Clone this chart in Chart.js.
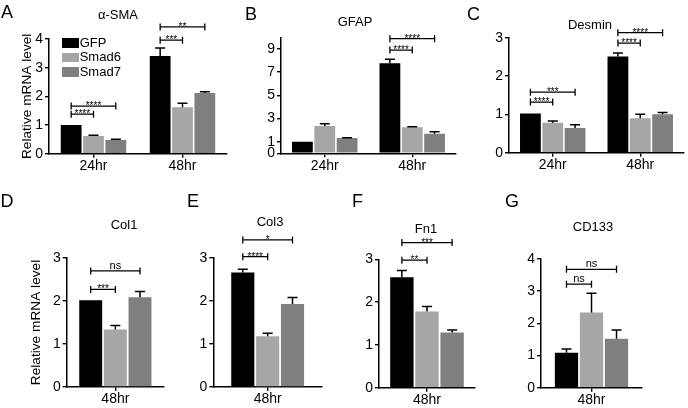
<!DOCTYPE html>
<html>
<head>
<meta charset="utf-8">
<script src="https://cdn.jsdelivr.net/npm/chart.js@4.4.1/dist/chart.umd.min.js"></script>
<style>
  body { margin: 0; width: 688px; height: 408px; overflow: hidden; background: #fff; position: relative; font-family: "Liberation Sans", Arial, sans-serif; color: #000; }
  canvas { position: absolute; }
  .letter { position: absolute; font-size: 18px; line-height: 18px; z-index: 2; }
  .title { position: absolute; font-size: 13px; line-height: 13px; white-space: nowrap; transform: translateX(-50%); z-index: 2; }
  #legend { position: absolute; left: 61.7px; top: 35.8px; font-size: 13px; z-index: 2; }
  #legend div { display: flex; align-items: center; height: 14.5px; line-height: 14.5px; }
  #legend .box { display: inline-block; width: 17px; height: 9.5px; margin-right: 1px; }
</style>
</head>
<body>
<div class="letter" style="left:1px;top:2.6px">A</div>
<div class="letter" style="left:245px;top:4.6px">B</div>
<div class="letter" style="left:467px;top:4.6px">C</div>
<div class="letter" style="left:0.5px;top:191.6px">D</div>
<div class="letter" style="left:187px;top:191.6px">E</div>
<div class="letter" style="left:352px;top:191.6px">F</div>
<div class="letter" style="left:505px;top:191.6px">G</div>
<div id="legend"></div>
<script>
const seriesNames = ['GFP', 'Smad6', 'Smad7'];
const seriesColors = ['#000000', '#a6a6a6', '#7f7f7f'];
const bothTimes = ['24hr', '48hr'];
const lateTime = ['48hr'];

// each means/errs row is one series (GFP, Smad6, Smad7); sig rows: [group, from, to, level, label]
const smaMeans = [[1.00, 3.41], [0.62, 1.62], [0.48, 2.12]];
const smaErrs = [[0, 0.28], [0.02, 0.14], [0.02, 0.04]];
const smaSig = [[0, 0, 1, 1.38, '****'], [0, 0, 2, 1.66, '****'], [1, 0, 1, 3.96, '***'], [1, 0, 2, 4.42, '**']];
const smaTicks = [0, 1, 2, 3, 4];

const gfapMeans = [[1.00, 7.76], [2.35, 2.24], [1.32, 1.69]];
const gfapErrs = [[0, 0.34], [0.2, 0.04], [0.03, 0.17]];
const gfapSig = [[1, 0, 1, 8.9, '****'], [1, 0, 2, 9.88, '****']];
const gfapTicks = [0, 1, 3, 5, 7, 9];

const desminMeans = [[1.02, 2.51], [0.78, 0.90], [0.645, 1.00]];
const desminErrs = [[0, 0.09], [0.05, 0.10], [0.085, 0.05]];
const desminSig = [[0, 0, 1, 1.32, '****'], [0, 0, 2, 1.58, '***'], [1, 0, 1, 2.86, '****'], [1, 0, 2, 3.13, '****']];
const desminTicks = [0, 1, 2, 3];

const col1Means = [[2.02], [1.34], [2.09]];
const col1Errs = [[0], [0.09], [0.13]];
const col1Sig = [[0, 0, 1, 2.27, '***'], [0, 0, 2, 2.7, 'ns']];

const col3Means = [[2.66], [1.18], [1.93]];
const col3Errs = [[0.08], [0.07], [0.15]];
const col3Sig = [[0, 0, 1, 3.03, '****'], [0, 0, 2, 3.42, '*']];

const fn1Means = [[2.58], [1.78], [1.29]];
const fn1Errs = [[0.16], [0.12], [0.06]];
const fn1Sig = [[0, 0, 1, 2.98, '**'], [0, 0, 2, 3.39, '***']];

const cd133Means = [[1.08], [2.33], [1.52]];
const cd133Errs = [[0.12], [0.6], [0.27]];
const cd133Sig = [[0, 0, 1, 3.21, 'ns'], [0, 0, 2, 3.67, 'ns']];

const threeTicks = [0, 1, 2, 3];
const fourTicks = [0, 1, 2, 3, 4];

const panels = [
  { title: 'α-SMA', labels: bothTimes, means: smaMeans, errs: smaErrs, sig: smaSig, ticks: smaTicks, yMax: 4 },
  { title: 'GFAP', labels: bothTimes, means: gfapMeans, errs: gfapErrs, sig: gfapSig, ticks: gfapTicks, yMax: 10 },
  { title: 'Desmin', labels: bothTimes, means: desminMeans, errs: desminErrs, sig: desminSig, ticks: desminTicks, yMax: 3 },
  { title: 'Col1', labels: lateTime, means: col1Means, errs: col1Errs, sig: col1Sig, ticks: threeTicks, yMax: 3 },
  { title: 'Col3', labels: lateTime, means: col3Means, errs: col3Errs, sig: col3Sig, ticks: threeTicks, yMax: 3 },
  { title: 'Fn1', labels: lateTime, means: fn1Means, errs: fn1Errs, sig: fn1Sig, ticks: threeTicks, yMax: 3 },
  { title: 'CD133', labels: lateTime, means: cd133Means, errs: cd133Errs, sig: cd133Sig, ticks: fourTicks, yMax: 4 }
];

// canvas boxes on the page, plus where each panel title sits (centre x, centre y)
const boxes = [
  { x: 0, y: 0, w: 236, h: 180, yw: 49, padT: 39, padR: 9, xh: 26.3, catPct: 0.753, yTitlePad: 19.3, tx: 118, ty: 14 },
  { x: 240, y: 0, w: 230, h: 180, yw: 41, padT: 37.3, padR: 14, xh: 26.7, catPct: 0.766, tx: 355, ty: 21.7 },
  { x: 474, y: 0, w: 232, h: 180, yw: 35, padT: 37.7, padR: 22, xh: 27.3, catPct: 0.766, tx: 590, ty: 24 },
  { x: 5, y: 200, w: 238, h: 208, yw: 61.7, padT: 58, padR: 79, xh: 21, catPct: 0.76, yTitlePad: 23.5, tx: 124, ty: 224 },
  { x: 178, y: 200, w: 184, h: 208, yw: 35.3, padT: 58, padR: 40, xh: 21, catPct: 0.686, tx: 270, ty: 221.7 },
  { x: 344, y: 200, w: 164, h: 208, yw: 35, padT: 59.3, padR: 33, xh: 20.3, catPct: 0.785, tx: 426, ty: 228 },
  { x: 506, y: 200, w: 174, h: 208, yw: 35, padT: 58.7, padR: 38, xh: 20.3, catPct: 0.743, tx: 593, ty: 226.7 }
];

Chart.defaults.font.family = '"Liberation Sans", Arial, sans-serif';
Chart.defaults.color = '#000';

const errorBars = {
  id: 'errorBars',
  afterDatasetsDraw(chart) {
    const ctx = chart.ctx;
    const yScale = chart.scales.y;
    ctx.save();
    ctx.strokeStyle = '#000';
    ctx.lineWidth = 1.5;
    chart.data.datasets.forEach((ds, i) => {
      chart.getDatasetMeta(i).data.forEach((bar, j) => {
        const err = ds.errors[j];
        if (!err) return;
        const top = yScale.getPixelForValue(ds.data[j] + err);
        ctx.beginPath();
        ctx.moveTo(bar.x, bar.y);
        ctx.lineTo(bar.x, top);
        ctx.moveTo(bar.x - 5, top);
        ctx.lineTo(bar.x + 5, top);
        ctx.stroke();
      });
    });
    ctx.restore();
  }
};

function brackets(items) {
  return {
    id: 'brackets',
    afterDraw(chart) {
      const ctx = chart.ctx;
      const yScale = chart.scales.y;
      ctx.save();
      ctx.strokeStyle = '#000';
      ctx.fillStyle = '#000';
      ctx.lineWidth = 1.3;
      ctx.textAlign = 'center';
      ctx.textBaseline = 'alphabetic';
      items.forEach(([group, from, to, level, label]) => {
        const x1 = chart.getDatasetMeta(from).data[group].x;
        const x2 = chart.getDatasetMeta(to).data[group].x;
        const py = yScale.getPixelForValue(level);
        ctx.beginPath();
        ctx.moveTo(x1, py);
        ctx.lineTo(x2, py);
        ctx.moveTo(x1, py - 3.5);
        ctx.lineTo(x1, py + 3.5);
        ctx.moveTo(x2, py - 3.5);
        ctx.lineTo(x2, py + 3.5);
        ctx.stroke();
        if (label === 'ns') {
          ctx.font = '11px "Liberation Sans", Arial, sans-serif';
          ctx.fillText(label, (x1 + x2) / 2, py - 2);
        } else {
          ctx.font = '10px "Liberation Sans", Arial, sans-serif';
          ctx.fillText(label, (x1 + x2) / 2, py + 3);
        }
      });
      ctx.restore();
    }
  };
}

function addTitle(text, box) {
  const div = document.createElement('div');
  div.className = 'title';
  div.textContent = text;
  div.style.left = box.tx + 'px';
  div.style.top = (box.ty - 6.5) + 'px';
  document.body.appendChild(div);
}

function makeChart(panel, box) {
  const canvas = document.createElement('canvas');
  canvas.width = box.w;
  canvas.height = box.h;
  canvas.style.left = box.x + 'px';
  canvas.style.top = box.y + 'px';
  document.body.appendChild(canvas);
  addTitle(panel.title, box);

  const datasets = seriesNames.map((name, i) => ({
    label: name,
    data: panel.means[i],
    errors: panel.errs[i],
    backgroundColor: seriesColors[i],
    borderWidth: 0,
    categoryPercentage: box.catPct,
    barPercentage: 0.93
  }));

  return new Chart(canvas, {
    type: 'bar',
    data: { labels: panel.labels, datasets: datasets },
    options: {
      responsive: false,
      animation: false,
      devicePixelRatio: 1,
      layout: { padding: { left: 0, top: box.padT, right: box.padR, bottom: 0 } },
      plugins: {
        legend: { display: false },
        tooltip: { enabled: false },
        title: { display: false }
      },
      scales: {
        x: {
          grid: { offset: false, drawOnChartArea: false, tickLength: 4, color: '#000', lineWidth: 1.4 },
          border: { color: '#000', width: 1.5 },
          ticks: { color: '#000', font: { size: 14 }, padding: 0, maxRotation: 0 },
          afterFit: s => { s.height = box.xh; }
        },
        y: {
          min: 0,
          max: panel.yMax,
          afterBuildTicks: s => { s.ticks = panel.ticks.map(v => ({ value: v })); },
          grid: { drawOnChartArea: false, tickLength: 4, color: '#000', lineWidth: 1.4 },
          border: { color: '#000', width: 1.5 },
          ticks: { color: '#000', font: { size: 14 }, padding: 2 },
          title: {
            display: !!box.yTitlePad,
            text: 'Relative mRNA level',
            color: '#000',
            font: { size: 13.7 },
            padding: { top: box.yTitlePad || 0, bottom: 0 }
          },
          afterFit: s => { s.width = box.yw; }
        }
      }
    },
    plugins: [errorBars, brackets(panel.sig)]
  });
}

panels.forEach((panel, i) => makeChart(panel, boxes[i]));

const legend = document.getElementById('legend');
seriesNames.forEach((name, i) => {
  const row = document.createElement('div');
  row.innerHTML = `<span class="box" style="background:${seriesColors[i]}"></span>${name}`;
  legend.appendChild(row);
});
</script>
</body>
</html>
